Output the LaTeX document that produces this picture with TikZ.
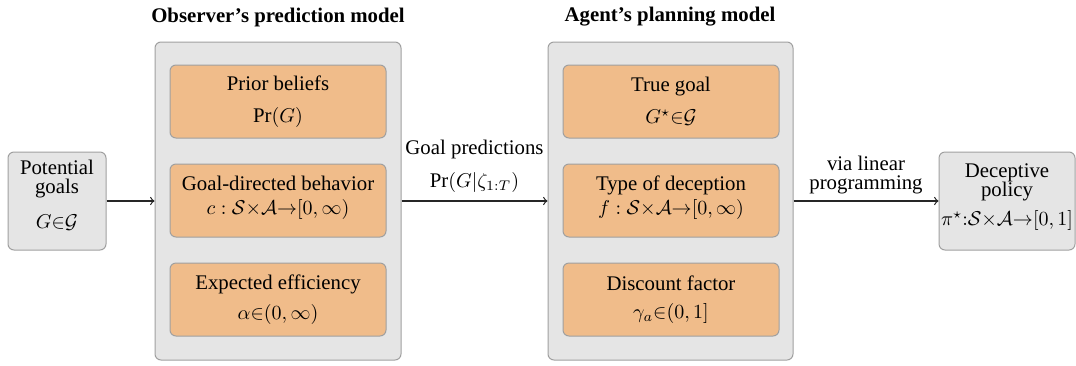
\documentclass[tikz,border=0pt]{standalone}
\usepackage{amsmath}
\usepackage{amssymb}
\usepackage{fontspec}
\setmainfont{Liberation Serif}
\usetikzlibrary{positioning}

\definecolor{boxgray}{HTML}{E5E5E5}
\definecolor{edgegray}{HTML}{A0A0A0}
\definecolor{param}{HTML}{F0BC8A}

\tikzset{
    outerbox/.style={rectangle, rounded corners=3pt, draw=edgegray, fill=boxgray, line width=0.5pt},
    paramboxstyle/.style={rectangle, rounded corners=3pt, draw=edgegray, fill=param, line width=0.5pt, minimum width=108pt, minimum height=36.5pt, align=center},
    endbox/.style={outerbox, minimum width=49pt, minimum height=49pt, align=center},
    flow/.style={->, line width=0.6pt, draw=black!85},
    title/.style={font=\fontsize{10.4}{12.5}\selectfont\bfseries}
}

\begin{document}
\begin{tikzpicture}[x=0.5pt, y=-0.5pt, every node/.style={font=\fontsize{10.4}{12.5}\selectfont, inner sep=1pt}]
    \useasboundingbox (0,0) rectangle (1076,365);

    % Titles
    \node[title] (OBSTITLE) at (278,17) {Observer’s prediction model};
    \node[title] (AGTTITLE) at (670,17) {Agent’s planning model};

    % Outer boxes
    \node[outerbox, minimum width=123pt, minimum height=159pt] (OBS) at (278,201) {};
    \node[outerbox, minimum width=122.5pt, minimum height=159pt] (AGT) at (670.5,201) {};

    % Observer parameters
    \node[paramboxstyle] (PRIOR) at (278,101.5) {Prior beliefs\\[3.5pt]$\Pr(G)$};
    \node[paramboxstyle] (BEHAV) at (278,200.5) {Goal-directed behavior\\[-0.5pt]$c:\mathcal{S}{\times}\mathcal{A}{\to}[0,\infty)$\\[-7pt]\mbox{}};
    \node[paramboxstyle] (EFFIC) at (278,299.5) {Expected efficiency\\[2.5pt]$\alpha{\in}(0,\infty)$};

    % Agent parameters
    \node[paramboxstyle] (TRUEG) at (671,101.5) {True goal\\[3.5pt]$G^\star{\in}\mathcal{G}$};
    \node[paramboxstyle] (DECEP) at (671,200.5) {Type of deception\\[-0.5pt]$f:\mathcal{S}{\times}\mathcal{A}{\to}[0,\infty)$\\[-7pt]\mbox{}};
    \node[paramboxstyle] (DISC) at (671,299.5) {Discount factor\\[1.5pt]$\gamma_a{\in}(0,1]$};

    % Input and output
    \node[endbox] (GOALS) at (57,201) {Potential\\[-3pt]goals\\[5pt]$G{\in}\mathcal{G}$\\[-6pt]\mbox{}};
    \node[endbox, minimum width=66pt] (POLICY) at (1007,201) {Deceptive\\[-3pt]policy\\[2pt]$\pi^\star{:}\mathcal{S}{\times}\mathcal{A}{\to}[0,1]$\\[-6pt]\mbox{}};

    % Connections
    \draw[flow] (GOALS) -- (OBS);
    \draw[flow] (OBS) -- node[above=3pt, align=center] {Goal predictions\\[4pt]$\Pr(G|\zeta_{1:T})$} (AGT);
    \draw[flow] (AGT) -- node[above=2pt, align=center] {via linear\\[-3pt]programming} (POLICY);
\end{tikzpicture}
\end{document}
